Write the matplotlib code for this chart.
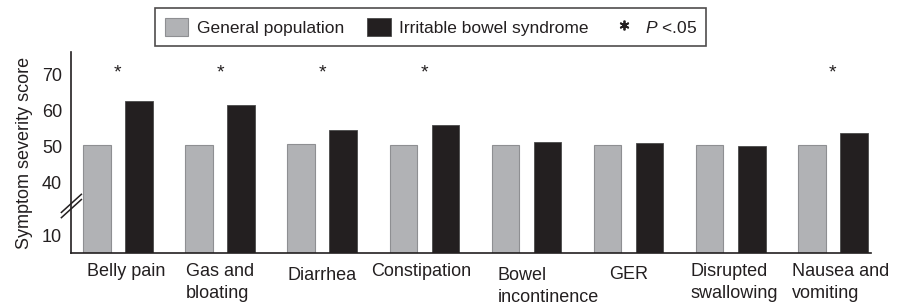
import numpy as np
import matplotlib
matplotlib.use("Agg")
import matplotlib.pyplot as plt
from matplotlib.patches import Patch
from matplotlib.lines import Line2D
from matplotlib.transforms import ScaledTranslation

plt.rcParams["font.family"] = ["Liberation Sans", "DejaVu Sans"]
plt.rcParams["mathtext.fontset"] = "custom"
plt.rcParams["mathtext.rm"] = "Liberation Sans"
plt.rcParams["mathtext.it"] = "Liberation Sans:italic"

categories = ["Belly pain", "Gas and\nbloating", "Diarrhea", "Constipation",
              "Bowel\nincontinence", "GER", "Disrupted\nswallowing", "Nausea and\nvomiting"]
general_pop = [50.5, 50.5, 50.7, 50.5, 50.6, 50.6, 50.6, 50.6]
ibs = [62.9, 61.6, 54.6, 56.2, 51.3, 51.2, 50.3, 54.0]
significant = [True, True, True, True, False, False, False, True]
yticks = [10, 40, 50, 60, 70]

# small pixel nudges of the category labels, as placed in the original figure
label_nudge = [(8, 0), (0, 0), (0, -4), (-3, 0), (22, -4), (0, -3), (3, 0), (8, 0)]

TXT = "#231f20"
GRAY = "#b1b2b5"
BLACK = "#231f20"
FS = 13


# broken axis: everything below 40 is squeezed
def fwd(v):
    v = np.asarray(v, dtype=float)
    return np.where(v >= 40, v, 40 - (40 - v) * 0.49)


def inv(d):
    d = np.asarray(d, dtype=float)
    return np.where(d >= 40, d, 40 - (40 - d) / 0.49)


fig = plt.figure(figsize=(9.03, 3.04), dpi=100)
ax = fig.add_axes([0.0786, 0.1668, 0.8856, 0.6622])
ax.set_yscale("function", functions=(fwd, inv))

x = np.arange(len(categories))
w = 0.27
off = 0.206
ax.bar(x - off, general_pop, width=w, color=GRAY, edgecolor="#8e8f92", linewidth=0.8)
ax.bar(x + off, ibs, width=w, color=BLACK, edgecolor="#4a4a4a", linewidth=0.6)

for xi, sig in zip(x, significant):
    if sig:
        ax.text(xi, 69.2, "*", ha="center", va="baseline", fontsize=14, color=TXT)

ax.set_xlim(-0.46, 7.37)
ax.set_ylim(0, 76.4)
ax.set_yticks(yticks)
ax.set_xticks(x)
ax.set_xticklabels(categories, fontsize=FS, color=TXT, multialignment="left",
                   linespacing=1.35)
ax.tick_params(axis="both", length=0, labelsize=FS, colors=TXT)
ax.tick_params(axis="x", pad=7)
ax.tick_params(axis="y", pad=6.5)
ax.set_ylabel("Symptom severity score", fontsize=FS, color=TXT, labelpad=6)

for lab, (dx, dy) in zip(ax.get_xticklabels(), label_nudge):
    lab.set_transform(lab.get_transform() + ScaledTranslation(dx / 100, dy / 100, fig.dpi_scale_trans))

for s in ["top", "right"]:
    ax.spines[s].set_visible(False)
for s in ["left", "bottom"]:
    ax.spines[s].set_color(TXT)
    ax.spines[s].set_linewidth(1.2)

# break marks on the y axis
for dy in (-0.013, 0.013):
    ax.plot([-0.012, 0.013], [0.19 + dy, 0.28 + dy], transform=ax.transAxes,
            color=TXT, lw=1.1, clip_on=False)

handles = [
    Patch(facecolor=GRAY, edgecolor="#8e8f92", linewidth=0.8),
    Patch(facecolor=BLACK, edgecolor="#4a4a4a", linewidth=0.6),
    Line2D([], [], marker=(6, 2, 0), color=TXT, linestyle="none",
           markersize=7, markeredgewidth=1.3),
]
labels = ["General population", "Irritable bowel syndrome", "$P$ <.05"]
leg = fig.legend(handles, labels, loc="upper left", bbox_to_anchor=(155 / 903, 1 - 8 / 304),
                 ncol=3, frameon=True, fancybox=False, edgecolor=TXT, fontsize=12.5,
                 handlelength=1.35, handleheight=1.3, handletextpad=0.5,
                 columnspacing=1.35, borderpad=0.55, borderaxespad=0)
leg.get_frame().set_linewidth(1.2)
for t in leg.get_texts():
    t.set_color(TXT)

fig.savefig("out.png", dpi=100)
